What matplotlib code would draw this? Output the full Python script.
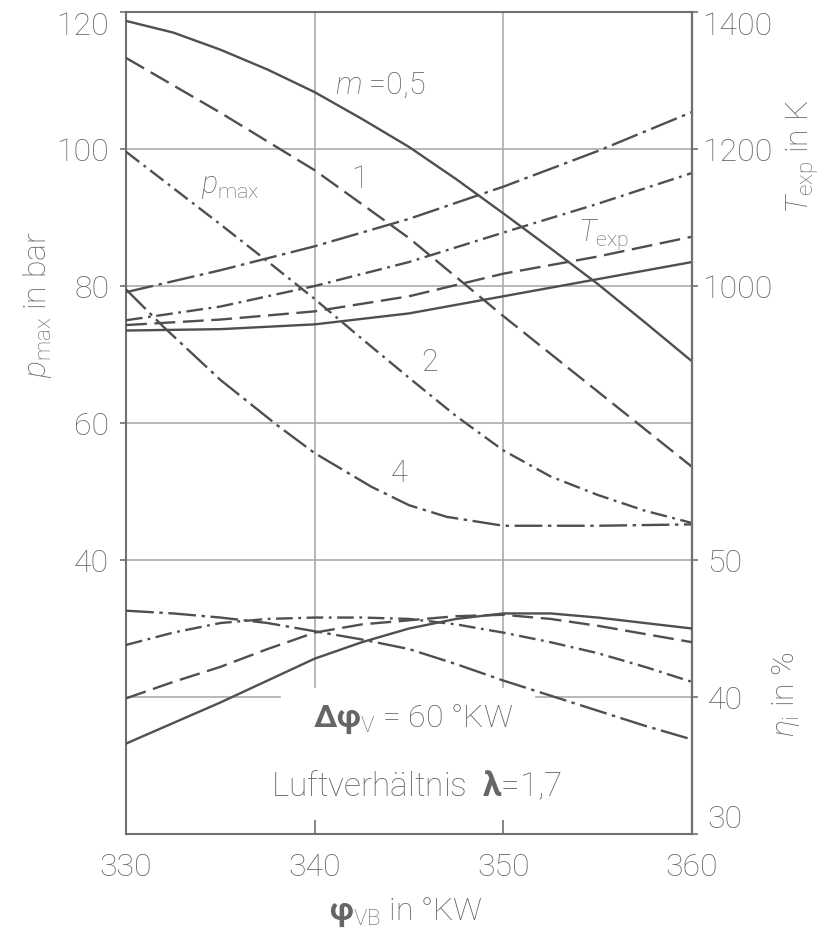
import matplotlib
matplotlib.use('Agg')
import matplotlib.pyplot as plt

# ---------------- data ----------------
phi = [330, 335, 340, 345, 350, 355, 360]
phi_f = [330, 332.5, 335, 337.5, 340, 342.5, 345, 347.5, 350, 352.5, 355, 357.5, 360]

# p_max in bar
p_m05 = [118.7, 117.0, 114.5, 111.6, 108.3, 104.4, 100.3, 95.6, 90.6, 85.5, 80.3, 74.7, 69.0]
p_m1 = [113.3, 105.3, 96.9, 87.0, 75.6, 64.6, 53.6]
p_m2 = [99.6, 94.3, 89.0, 83.6, 78.1, 72.3, 66.6, 61.0, 56.0, 52.2, 49.5, 47.2, 45.4]
phi_m4 = [330, 332, 335, 338, 340, 343, 345, 347, 350, 355, 360]
p_m4 = [79.5, 74.0, 66.3, 59.7, 55.6, 50.7, 48.0, 46.3, 45.0, 45.0, 45.2]

# T_exp in K
T_m05 = [935, 937, 944, 960, 985, 1010, 1035]
T_m1 = [943, 951, 963, 985, 1018, 1043, 1072]
T_m2 = [950, 970, 1000, 1035, 1078, 1120, 1165]
T_m4 = [991, 1023, 1058, 1098, 1145, 1197, 1254]

# eta_i in %
eta_m05 = [36.6, 38.1, 39.6, 41.2, 42.8, 44.0, 45.0, 45.7, 46.1, 46.1, 45.8, 45.4, 45.0]
eta_m1 = [39.9, 41.1, 42.2, 43.5, 44.7, 45.3, 45.6, 45.9, 46.0, 45.7, 45.2, 44.6, 44.0]
eta_m2 = [43.8, 44.7, 45.4, 45.7, 45.8, 45.8, 45.7, 45.3, 44.7, 44.0, 43.2, 42.2, 41.1]
eta_m4 = [46.3, 46.1, 45.8, 45.4, 44.8, 44.2, 43.5, 42.4, 41.2, 40.1, 39.0, 37.9, 36.9]

x_ticks = [330, 340, 350, 360]
p_ticks = [40, 60, 80, 100, 120]
T_ticks = [1000, 1200, 1400]
eta_ticks = [30, 40, 50]

# ---------------- style ----------------
FONT = ['Roboto', 'DejaVu Sans']
plt.rcParams['font.family'] = FONT
plt.rcParams['font.weight'] = 'light'
plt.rcParams['mathtext.fontset'] = 'custom'
plt.rcParams['mathtext.rm'] = 'Roboto:light'
plt.rcParams['mathtext.it'] = 'Roboto:italic:light'
plt.rcParams['mathtext.bf'] = 'Roboto:bold'
plt.rcParams['lines.scale_dashes'] = False

LINE = '#4f4f4f'
GRID = '#ababab'
TXT = '#666666'
SPINE = '#707070'
LW = 1.7

DASH = {'m05': None, 'm1': (15, 5.5), 'm2': (12, 4, 2, 4), 'm4': (20, 4, 2.5, 4)}

fig = plt.figure(figsize=(8.28, 9.46), dpi=100)
ax = fig.add_axes([0.1522, 0.11839, 0.68357, 0.86892])
ax.set_xlim(330, 360)
ax.set_ylim(0, 120)
axT = ax.twinx()
axT.set_ylim(200, 1400)
axE = ax.twinx()
axE.set_ylim(30, 90)

for a in (axT, axE):
    for s in ('left', 'top', 'bottom'):
        a.spines[s].set_visible(False)
    a.spines['right'].set_color(SPINE)
    a.spines['right'].set_linewidth(1.5)
    a.patch.set_visible(False)
for s in ax.spines.values():
    s.set_color(SPINE)
    s.set_linewidth(1.5)

# grid
for yv in [40, 60, 80, 100]:
    ax.axhline(yv, color=GRID, lw=1.2, zorder=1)
ax.axhline(20, xmin=0, xmax=0.272, color=GRID, lw=1.2, zorder=1)
ax.axhline(20, xmin=0.724, xmax=1, color=GRID, lw=1.2, zorder=1)
for xv in [340, 350]:
    ax.axvline(xv, ymin=21.5 / 120, ymax=1, color=GRID, lw=1.2, zorder=1)


def draw(a, x, y, key):
    ln, = a.plot(x, y, color=LINE, lw=LW, zorder=3, solid_capstyle='butt',
                 solid_joinstyle='round')
    if DASH[key] is not None:
        ln.set_dashes(DASH[key])


draw(ax, phi_f, p_m05, 'm05')
draw(ax, phi, p_m1, 'm1')
draw(ax, phi_f, p_m2, 'm2')
draw(ax, phi_m4, p_m4, 'm4')
draw(axT, phi, T_m05, 'm05')
draw(axT, phi, T_m1, 'm1')
draw(axT, phi, T_m2, 'm2')
draw(axT, phi, T_m4, 'm4')
draw(axE, phi_f, eta_m05, 'm05')
draw(axE, phi_f, eta_m1, 'm1')
draw(axE, phi_f, eta_m2, 'm2')
draw(axE, phi_f, eta_m4, 'm4')

# ticks
TS = 23
ax.set_xticks(x_ticks)
ax.set_xticklabels([str(v) for v in x_ticks])
ax.set_yticks(p_ticks)
ax.set_yticklabels([str(v) for v in p_ticks])
ax.tick_params(axis='x', direction='in', length=10, width=1.2, color=SPINE,
               pad=14, labelsize=TS, labelcolor=TXT)
ax.tick_params(axis='y', direction='out', length=4, width=1.2, color=SPINE,
               pad=8, labelsize=TS, labelcolor=TXT)
axT.set_yticks(T_ticks)
axT.set_yticklabels([str(v) for v in T_ticks])
axT.tick_params(axis='y', direction='out', length=4, width=1.2, color=SPINE,
                pad=3, labelsize=TS, labelcolor=TXT)
axE.set_yticks(eta_ticks)
axE.set_yticklabels([str(v) for v in eta_ticks])
axE.tick_params(axis='y', direction='out', length=4, width=1.2, color=SPINE,
                pad=7, labelsize=TS, labelcolor=TXT)
ax.get_yticklabels()[-1].set_va('top')
axT.get_yticklabels()[-1].set_va('top')
axE.get_yticklabels()[0].set_va('bottom')

# axis labels
LS = 23
fig.text(38 / 828, 1 - 305 / 946, r'$p_{\mathrm{max}}$ in bar', rotation=90,
         ha='center', va='center', fontsize=LS, color=TXT)
fig.text(803 / 828, 1 - 157 / 946, r'$T_{\mathrm{exp}}$ in K', rotation=90,
         ha='center', va='center', fontsize=LS, color=TXT)
fig.text(786 / 828, 1 - 694 / 946, r'$\eta_{\mathrm{i}}$ in %', rotation=90,
         ha='center', va='center', fontsize=LS, color=TXT)
fig.text(406 / 828, 1 - 912 / 946, r'$\mathbf{\varphi}_{\mathrm{VB}}$ in °KW',
         ha='center', va='center', fontsize=LS, color=TXT)

# annotations
AS = 22
ax.text(341.1, 109.3, r'$m$ =0,5', ha='left', va='center', fontsize=AS, color=TXT)
ax.text(342.4, 95.5, '1', ha='center', va='center', fontsize=AS, color=TXT)
ax.text(335.5, 94.5, r'$p_{\mathrm{max}}$', ha='center', va='center', fontsize=AS, color=TXT)
ax.text(346.1, 68.9, '2', ha='center', va='center', fontsize=AS, color=TXT)
ax.text(344.5, 52.7, '4', ha='center', va='center', fontsize=AS, color=TXT)
ax.text(355.3, 87.5, r'$T_{\mathrm{exp}}$', ha='center', va='center', fontsize=AS, color=TXT)
ax.text(345.2, 16.8, r'$\mathbf{\Delta\varphi}_{\mathrm{V}}$ = 60 °KW', ha='center',
        va='center', fontsize=AS + 1, color=TXT)
ax.text(345.4, 6.9, r'Luftverhältnis  $\mathbf{\lambda}$=1,7', ha='center',
        va='center', fontsize=AS + 2, color=TXT)

fig.savefig('out.png', dpi=100, facecolor='white')
